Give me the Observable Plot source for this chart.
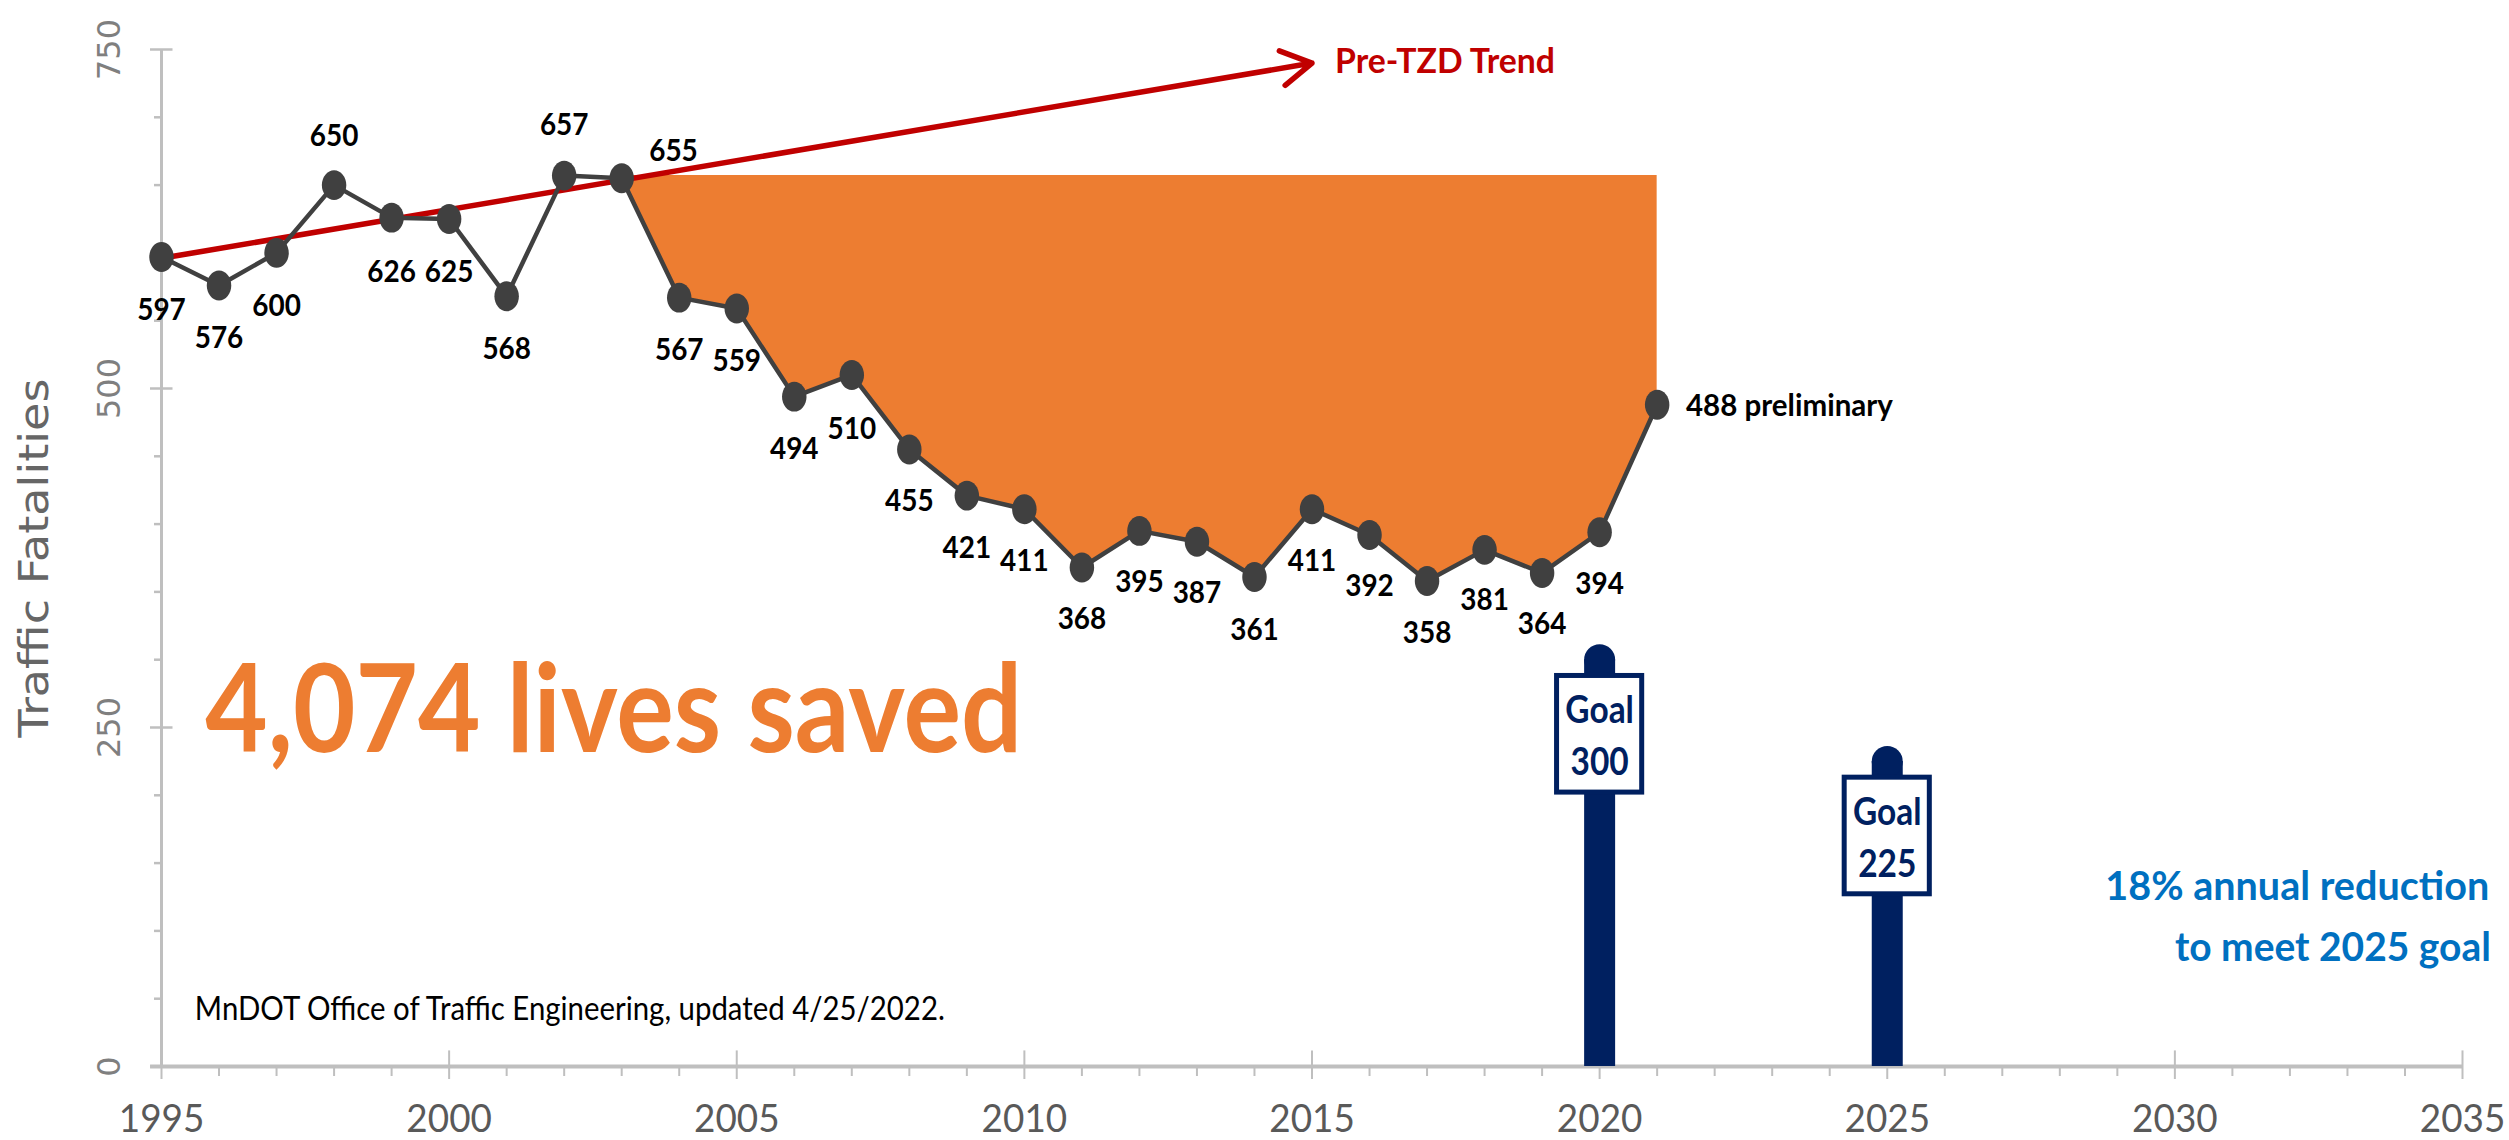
<!DOCTYPE html>
<html><head><meta charset="utf-8">
<script src="https://cdn.jsdelivr.net/npm/d3@7"></script>
<script src="https://cdn.jsdelivr.net/npm/@observablehq/plot@0.6"></script>
<style>
html,body{margin:0;padding:0;background:#fff;}
svg{display:block;background:#fff;}
</style></head><body><div id="chart"></div>
<script>
const years = [1995,1996,1997,1998,1999,2000,2001,2002,2003,2004,2005,2006,2007,2008,2009,2010,2011,2012,2013,2014,2015,2016,2017,2018,2019,2020,2021];
const deaths = [597,576,600,650,626,625,568,657,655,567,559,494,510,455,421,411,368,395,387,361,411,392,358,381,364,394,488];
// where each number sits, in chart units
const labelY = [558,537,561,686,586,586,529,694,675,528,520,455,470,417,382,373,330,357,349,322,373,354,320,344,326,356,487];
const labelX = years.map(y => y === 2003 ? 2003.9 : y);
const labelText = deaths.map((d,i) => i === deaths.length-1 ? "" : String(d));
const savedTop = 657;
const trendX = [1995,2015];
const trendY = [596,740];
const goalYears = [2020,2025];
const goalValues = [300,225];
const xMajor = [1995,2000,2005,2010,2015,2020,2025,2030,2035];
const xMinor = d3.range(1995,2036).filter(y => y%5);
const yMajor = [0,250,500,750];
const yMinor = [50,100,150,200,300,350,400,450,550,600,650,700];

const GRAY="#bfbfbf", DARK="#404040", NAVY="#002060", ORANGE="#ED7D31", RED="#C00000", BLUE="#0070C0";
const rows = years.map((x,i)=>({x,y:deaths[i]}));
const filled = rows.filter(d=>d.x>=2003);
const LATO="Lato, sans-serif", DEJA="'DejaVu Sans', sans-serif";
const ellipse = {draw(c,size){
  const r=Math.sqrt(size/Math.PI), a=r*0.9, b=r*1.1, k=0.5523;
  c.moveTo(a,0);
  c.bezierCurveTo(a,k*b,k*a,b,0,b);
  c.bezierCurveTo(-k*a,b,-a,k*b,-a,0);
  c.bezierCurveTo(-a,-k*b,-k*a,-b,0,-b);
  c.bezierCurveTo(k*a,-b,a,-k*b,a,0);
  c.closePath();
}};
const note=(t,x,y,o)=>Plot.text([t],{x:()=>x,y:()=>y,text:d=>d,fontFamily:LATO,...o});

const chart = Plot.plot({
  width:2509,height:1140,
  marginLeft:161,marginRight:47,marginTop:49,marginBottom:74,
  x:{domain:[1995,2035]},
  y:{domain:[0,750]},
  marks:[
    Plot.areaY(filled,{x:"x",y1:()=>savedTop,y2:"y",fill:ORANGE}),
    // axis lines and ticks
    Plot.ruleX([1995],{y1:0,y2:750,stroke:GRAY,strokeWidth:3}),
    Plot.ruleY([0],{x1:1994.81,x2:2035,stroke:GRAY,strokeWidth:4}),
    Plot.ruleX(xMajor,{y1:0,y2:11.5,stroke:GRAY,strokeWidth:2}),
    Plot.ruleY(yMajor.slice(1),{x1:1995,x2:1995.2,stroke:GRAY,strokeWidth:2.5}),
    Plot.axisX({ticks:xMajor,tickFormat:d=>String(d),tickSize:13,tickPadding:26,stroke:GRAY,strokeWidth:2,strokeOpacity:1,
      fill:"#595959",fontSize:38,fontFamily:LATO,label:null}),
    Plot.axisX({ticks:xMinor,tickFormat:()=>"",tickSize:10,stroke:GRAY,strokeWidth:2,strokeOpacity:1,label:null}),
    Plot.axisY({ticks:yMajor,tickSize:11,tickPadding:31,tickRotate:-90,stroke:GRAY,strokeWidth:2.5,strokeOpacity:1,
      fill:"#7f7f7f",fontSize:32,fontFamily:DEJA,label:null}),
    Plot.axisY({ticks:yMinor,tickFormat:()=>"",tickSize:7,stroke:GRAY,strokeWidth:2.5,strokeOpacity:1,label:null}),
    Plot.text(["Traffic Fatalities"],{frameAnchor:"left",textAnchor:"middle",dx:-126,rotate:-90,fill:"#666",fontSize:40,fontFamily:DEJA,className:"t-title"}),
    // trend
    Plot.arrow([0],{x1:()=>trendX[0],y1:()=>trendY[0],x2:()=>trendX[1],y2:()=>trendY[1],stroke:RED,strokeWidth:5.5,headLength:9.5,headAngle:60,bend:0}),
    // series
    Plot.line(rows,{x:"x",y:"y",stroke:DARK,strokeWidth:4.5}),
    Plot.dot(rows,{x:"x",y:"y",r:13.6,fill:DARK,symbol:ellipse}),
    // value labels
    Plot.text(labelText,{x:(d,i)=>labelX[i],y:(d,i)=>labelY[i],text:d=>d,fontSize:31,fontWeight:700,fill:"#000",fontFamily:LATO,className:"t-value"}),
    note("488 preliminary",2021.5,487,{textAnchor:"start",fontSize:31,fontWeight:700,fill:"#000",className:"t-prelim"}),
    // goal posts
    Plot.ruleX(goalYears,{y1:0,y2:(d,i)=>goalValues[i],stroke:NAVY,strokeWidth:31}),
    Plot.dot(goalYears,{x:d=>d,y:(d,i)=>goalValues[i],r:15.5,fill:NAVY}),
    Plot.rect(goalYears,{x1:d=>d-0.74,x2:d=>d+0.74,y1:(d,i)=>goalValues[i]-98,y2:(d,i)=>goalValues[i]-12,fill:"#fff",stroke:NAVY,strokeWidth:5}),
    Plot.text(goalYears,{x:d=>d,y:(d,i)=>goalValues[i]-38,text:()=>"Goal",fontSize:38,fontWeight:700,fill:NAVY,fontFamily:LATO,className:"t-goal"}),
    Plot.text(goalYears,{x:d=>d,y:(d,i)=>goalValues[i]-76,text:(d,i)=>String(goalValues[i]),fontSize:38,fontWeight:700,fill:NAVY,fontFamily:LATO,className:"t-goal"}),
    // notes
    note("4,074 lives saved",1995.76,261,{textAnchor:"start",fontSize:122,fontWeight:700,fill:ORANGE,className:"t-big"}),
    note("Pre-TZD Trend",2015.4,741,{textAnchor:"start",fontSize:34,fontWeight:700,fill:RED,className:"t-pre"}),
    note("18% annual reduction",2028.79,132,{textAnchor:"start",fontSize:40,fontWeight:700,fill:BLUE,className:"t-r1"}),
    note("to meet 2025 goal",2030,87,{textAnchor:"start",fontSize:40,fontWeight:700,fill:BLUE,className:"t-r2"}),
    note("MnDOT Office of Traffic Engineering, updated 4/25/2022.",1995.58,42,{textAnchor:"start",fontSize:33,fill:"#000",className:"t-cap"})
  ]
});
document.getElementById("chart").appendChild(chart);
// The reference's type is condensed: fit real text to its measured run lengths.
const setLen=(t,w)=>{t.setAttribute("textLength",w);t.setAttribute("lengthAdjust","spacingAndGlyphs");};
const fit=(sel,w)=>chart.querySelectorAll(sel+" text").forEach(t=>setLen(t,w));
const squeeze=(sel,f)=>chart.querySelectorAll(sel+" text").forEach(t=>{const n=t.getComputedTextLength();if(n>0)setLen(t,n*f);});
fit(".t-title",359);fit(".t-big",817);fit(".t-pre",220);fit(".t-r1",384);fit(".t-r2",316);fit(".t-cap",750);fit(".t-prelim",207);
squeeze(".t-value",0.9);squeeze(".t-goal",0.88);
squeeze('g[aria-label="x-axis tick label"]',0.97);
</script></body></html>
